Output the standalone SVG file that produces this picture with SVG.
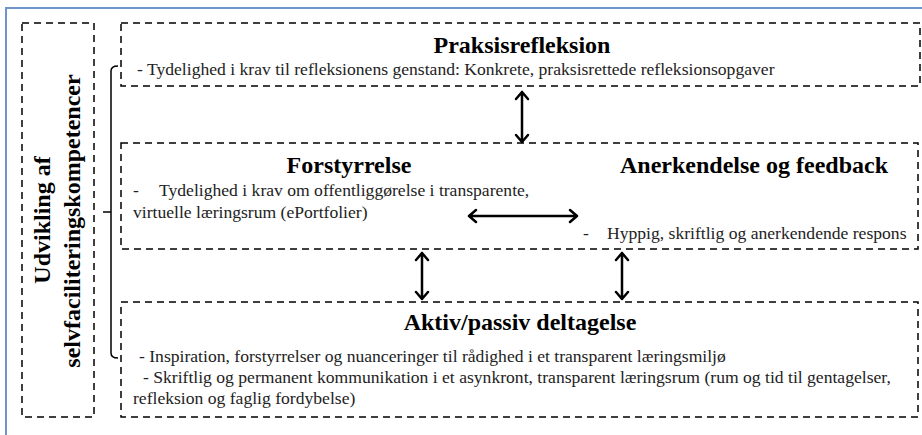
<svg xmlns="http://www.w3.org/2000/svg" width="922" height="435" viewBox="0 0 922 435">
<defs>
<style>
.box{fill:none;stroke:#000;stroke-width:1.5;stroke-dasharray:7 5}
.title{font-family:'Liberation Serif','Times New Roman',serif;font-weight:bold;font-size:24px;fill:#000}
.body{font-family:'Liberation Serif','Times New Roman',serif;font-size:17.6px;fill:#222}
.arr{fill:none;stroke:#000;stroke-width:2.5;stroke-linecap:round;stroke-linejoin:round}
.brk{fill:none;stroke:#000;stroke-width:1.5}
</style>
</defs>
<rect width="922" height="435" fill="#fff"/>
<path d="M6,435 V8 H922" fill="none" stroke="#6f94c9" stroke-width="2"/>

<g id="side">
<rect class="box" x="22" y="23" width="72" height="394"/>
<text class="title" text-anchor="middle" transform="translate(50,220) rotate(-90)">Udvikling af</text>
<text class="title" text-anchor="middle" transform="translate(80,221) rotate(-90)">selvfaciliteringskompetencer</text>
</g>

<g id="bracket">
<path class="brk" d="M118,66 Q111,66 111,71 V353 Q111,358 118,358"/>
<path class="brk" d="M103,212 H111"/>
</g>

<g id="praksis">
<rect class="box" x="121" y="23" width="799" height="63"/>
<text class="title" x="522" y="53" text-anchor="middle">Praksisrefleksion</text>
<text class="body" x="137" y="75">- Tydelighed i krav til refleksionens genstand: Konkrete, praksisrettede refleksionsopgaver</text>
</g>

<g id="forstyrrelse">
<rect class="box" x="121" y="143" width="797" height="106"/>
<text class="title" x="349" y="173" text-anchor="middle">Forstyrrelse</text>
<text class="body" x="133" y="196">-</text>
<text class="body" x="159" y="196">Tydelighed i krav om offentliggørelse i transparente,</text>
<text class="body" x="133" y="218">virtuelle læringsrum (ePortfolier)</text>
</g>

<g id="anerkendelse">
<text class="title" x="754" y="173" text-anchor="middle">Anerkendelse og feedback</text>
<text class="body" x="583" y="239">-</text>
<text class="body" x="607" y="239">Hyppig, skriftlig og anerkendende respons</text>
</g>

<g id="aktiv">
<rect class="box" x="121" y="302" width="797" height="115"/>
<text class="title" x="520" y="330" text-anchor="middle">Aktiv/passiv deltagelse</text>
<text class="body" x="139" y="362">- Inspiration, forstyrrelser og nuanceringer til rådighed i et transparent læringsmiljø</text>
<text class="body" x="143" y="383">- Skriftlig og permanent kommunikation i et asynkront, transparent læringsrum (rum og tid til gentagelser,</text>
<text class="body" x="133" y="404">refleksion og faglig fordybelse)</text>
</g>

<g id="connectors">
<path class="arr" d="M522,92 V142 M516,99 L522,92 L528,99 M516,135 L522,142 L528,135"/>
<path class="arr" d="M469,216 H577 M476,210 L469,216 L476,222 M570,210 L577,216 L570,222"/>
<path class="arr" d="M422,253 V299 M416,260 L422,253 L428,260 M416,292 L422,299 L428,292"/>
<path class="arr" d="M622,253 V299 M616,260 L622,253 L628,260 M616,292 L622,299 L628,292"/>
</g>
</svg>
